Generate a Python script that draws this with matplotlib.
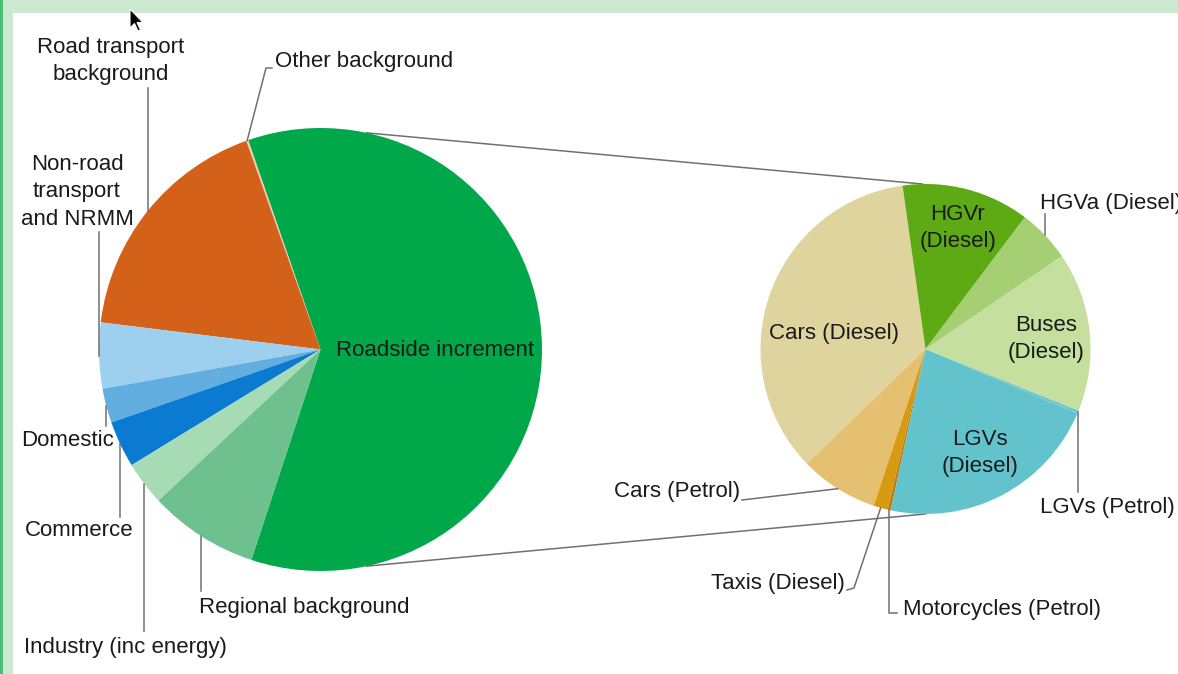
import numpy as np
import matplotlib.pyplot as plt
from matplotlib.patches import Rectangle, Polygon

plt.rcParams['font.family'] = ['Liberation Sans', 'DejaVu Sans']

W, H = 1178, 674

# NO2 source apportionment at the site (percent of total)
site_sources = ["Roadside increment", "Other background", "Road transport background",
                "Non-road transport and NRMM", "Domestic", "Commerce",
                "Industry (inc energy)", "Regional background"]
site_share = [60.35, 0.15, 17.6, 4.8, 2.5, 3.4, 3.2, 8.0]
site_colors = ["#00A84A", "#EBCBA8", "#D4611A", "#9DD0EF", "#62AEE1",
               "#0A7BD0", "#A6DBB4", "#6EC18E"]

# roadside increment split by vehicle type (percent of increment)
vehicle_types = ["Cars (Diesel)", "Cars (Petrol)", "Taxis (Diesel)", "Motorcycles (Petrol)",
                 "LGVs (Diesel)", "LGVs (Petrol)", "Buses (Diesel)", "HGVa (Diesel)",
                 "HGVr (Diesel)"]
vehicle_share = [35.0, 7.7, 1.4, 0.3, 22.0, 0.3, 15.6, 5.2, 12.5]
vehicle_colors = ["#E0D49E", "#E4C070", "#D79A12", "#B97F10", "#63C3CD",
                  "#6EC6CE", "#C4DF9E", "#A5CF72", "#5DAA14"]

TEXT = "#1a1a1a"
LINE = "#707070"
FS = 16
LS = 1.4


def px(x, y):
    # screen pixels (y down) -> axes data (y up)
    return x, H - y


def rim_point(w):
    mid = np.deg2rad((w.theta1 + w.theta2) / 2)
    cx, cy = w.center
    return cx + w.r * np.cos(mid), cy + w.r * np.sin(mid)


def rim_at(w, angle):
    a = np.deg2rad(angle)
    cx, cy = w.center
    return cx + w.r * np.cos(a), cy + w.r * np.sin(a)


fig = plt.figure(figsize=(W / 100, H / 100), dpi=100)
ax = fig.add_axes([0, 0, 1, 1])

left_wedges, _ = ax.pie(site_share, colors=site_colors, startangle=-108.2,
                        center=px(320.5, 349.5), radius=221.5,
                        wedgeprops=dict(linewidth=0))
right_wedges, _ = ax.pie(vehicle_share, colors=vehicle_colors, startangle=98,
                         center=px(925.5, 349), radius=165,
                         wedgeprops=dict(linewidth=0))
site = dict(zip(site_sources, left_wedges))
veh = dict(zip(vehicle_types, right_wedges))

# lines tying the roadside increment to the breakdown pie
lw0 = left_wedges[0]
rw0 = right_wedges[0]
for a_left, a_right in [(78, 91), (-78, -90)]:
    x0, y0 = rim_at(lw0, a_left)
    x1, y1 = rim_at(rw0, a_right)
    ax.plot([x0, x1], [y0, y1], color=LINE, lw=1.1, zorder=0)

# labels drawn inside the big slices
inside = {
    "Roadside increment": ("Roadside increment", 435, 350),
    "Cars (Diesel)": ("Cars (Diesel)", 834, 334),
    "HGVr (Diesel)": ("HGVr\n(Diesel)", 958, 228),
    "Buses (Diesel)": ("Buses\n(Diesel)", 1046, 339),
    "LGVs (Diesel)": ("LGVs\n(Diesel)", 980, 453),
}
for key, (txt, x, y) in inside.items():
    ax.text(*px(x, y), txt, ha="center", va="center", fontsize=FS, color=TEXT,
            linespacing=LS)

# outside labels: text position, alignment, leader path from the slice rim
# (None for x means keep the rim x, giving a vertical leader)
outside = [
    (site, "Road transport background", "Road transport\nbackground", 111, 61, "center",
     [(None, 88)]),
    (site, "Other background", "Other background", 275, 62, "left",
     [(266, 68), (272, 68)]),
    (site, "Non-road transport and NRMM", "Non-road\ntransport\nand NRMM", 77, 192, "center",
     [(None, 232)]),
    (site, "Domestic", "Domestic", 68, 441, "center", [(None, 426)]),
    (site, "Commerce", "Commerce", 79, 531, "center", [(None, 517)]),
    (site, "Industry (inc energy)", "Industry (inc energy)", 125, 647, "center",
     [(None, 631)]),
    (site, "Regional background", "Regional background", 199, 607, "left",
     [(None, 591)]),
    (veh, "HGVa (Diesel)", "HGVa (Diesel)", 1040, 203, "left", [(None, 214)]),
    (veh, "LGVs (Petrol)", "LGVs (Petrol)", 1040, 508, "left", [(None, 492)]),
    (veh, "Cars (Petrol)", "Cars (Petrol)", 740, 492, "right", [(742, 500)]),
    (veh, "Taxis (Diesel)", "Taxis (Diesel)", 845, 584, "right",
     [(854, 588), (847, 590)]),
    (veh, "Motorcycles (Petrol)", "Motorcycles (Petrol)", 903, 609, "left",
     [(None, 613), (897, 613)]),
]
for wedges, key, txt, x, y, ha, path in outside:
    rx, ry = rim_point(wedges[key])
    xs, ys = [rx], [ry]
    for pxx, pyy in path:
        xs.append(rx if pxx is None else pxx)
        ys.append(H - pyy)
    ax.plot(xs, ys, color=LINE, lw=1.1)
    ax.text(*px(x, y), txt, ha=ha, va="center", fontsize=FS, color=TEXT,
            linespacing=LS, multialignment="center")

# window frame around the chart
ax.add_patch(Rectangle((0, H - 13), W, 13, color="#CBE8D0", lw=0, zorder=5))
ax.add_patch(Rectangle((0, 0), 13, H, color="#CBE8D0", lw=0, zorder=5))
ax.add_patch(Rectangle((0, 0), 2.5, H, color="#4DBF75", lw=0, zorder=6))

# mouse pointer
tip = np.array([130, 9])
arrow = np.array([(0, 0), (0, 19), (4.5, 14.5), (8, 22), (10.5, 21), (7, 13.5), (13, 13.5)])
pts = [px(*(tip + p)) for p in arrow]
ax.add_patch(Polygon(pts, closed=True, facecolor="black", edgecolor="white", lw=0.8, zorder=7))

ax.set_xlim(0, W)
ax.set_ylim(0, H)
ax.set_aspect("equal")
ax.axis("off")

fig.savefig("out.png", dpi=100, facecolor="white")
